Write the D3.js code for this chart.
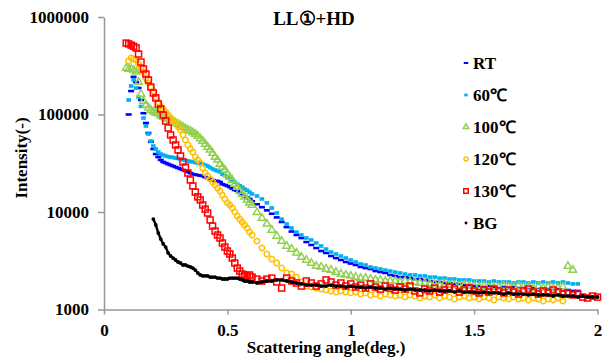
<!DOCTYPE html>
<html>
<head>
<meta charset="utf-8">
<script src="https://cdn.jsdelivr.net/npm/d3@7"></script>
<style>
  html, body { margin: 0; padding: 0; background: #fff; }
  svg { display: block; }
  text { font-family: "Liberation Serif", "Times New Roman", serif; font-weight: bold; fill: #000; }
</style>
</head>
<body>
<svg id="chart" width="609" height="363"></svg>
<script>
// scattering angle (deg.) grid shared by every series
const angles = [
  0.09, 0.10, 0.11, 0.12, 0.13, 0.14, 0.15, 0.16, 0.17, 0.18, 0.19,
  0.20, 0.21, 0.22, 0.23, 0.24, 0.25, 0.26, 0.27, 0.28, 0.29,
  0.30, 0.31, 0.32, 0.33, 0.34, 0.35, 0.36, 0.37, 0.38, 0.39,
  0.40, 0.41, 0.42, 0.43, 0.44, 0.45, 0.46, 0.47, 0.48, 0.49,
  0.50, 0.51, 0.52, 0.53, 0.54, 0.55, 0.56, 0.57, 0.58, 0.59,
  0.60,
  0.62, 0.64, 0.66, 0.68, 0.70, 0.72, 0.74, 0.76, 0.78, 0.80,
  0.82, 0.84, 0.86, 0.88, 0.90, 0.92, 0.94, 0.96, 0.98, 1.00,
  1.02, 1.04, 1.06, 1.08, 1.10, 1.12, 1.14, 1.16, 1.18, 1.20,
  1.22, 1.24, 1.26, 1.28, 1.30, 1.32, 1.34, 1.36, 1.38, 1.40,
  1.42, 1.44, 1.46, 1.48, 1.50, 1.52, 1.54, 1.56, 1.58, 1.60,
  1.62, 1.64, 1.66, 1.68, 1.70, 1.72, 1.74, 1.76, 1.78, 1.80,
  1.82, 1.84, 1.86, 1.88, 1.90, 1.92, 1.94, 1.96, 1.98, 2.00
];

// intensity (-) per series, aligned with angles
const rt = [
  null,
  100000, 174000, 243000, 215000, 187000, 141000, 103000, 81800, 64600, 52500,
  44300, 39300, 36600, 34200, 32600, 31800, 31000, 30300, 29600, 28900,
  28300, 27600, 27000, 26400, 25800, 25100, 24500, 24200, 23900, 23600,
  23400, 22800, 22300, 21800, 21300, 20800, 20800, 20300, 19300, 18900,
  18500, 18000, 17400, 16800, 16500, 15700, 15300, 14600, 14100, 13600,
  12900,
  12000, 11200, 10400, 9600, 8800, 7900, 7000, 6300, 5810, 5410,
  4920, 4590, 4270, 3980, 3800, 3540, 3370, 3220, 3070, 2960,
  2860, 2730, 2660, 2600, 2480, 2420, 2370, 2260, 2210, 2150,
  2150, 2100, 2050, 2050, 2010, 1960, 1915, 1915, 1870, 1870,
  1830, 1830, 1780, 1780, 1740, 1740, 1700, 1740, 1700, 1660,
  1700, 1660, 1700, 1660, 1660, 1620, 1660, 1620, 1620, 1620,
  1585, 1620, 1585, 1585, 1550, 1550, null, null, null, null
];

const c60 = [
  null,
  141000, 196000, 226000, 187000, 151000, 121000, 92000, 76200, 63100, 53500,
  47500, 44300, 41200, 39300, 38400, 37500, 37000, 36600, 36200, 35800,
  35400, 35000, 34200, 33800, 33400, 33000, 32600, 32200, 31800, 31400,
  31000, 30300, 29600, 28600, 27600, 27000, 26400, 25800, 24500, 23600,
  22800, 22000, 21300, 20300, 19300, 18600, 18000, 17200, 16700, 16000,
  15300,
  14600, 13600, 12400, 11000, 9770, 8430, 7540, 6850, 6230, 5810,
  5410, 5170, 4810, 4480, 4170, 3890, 3710, 3540, 3370, 3220,
  3070, 2930, 2860, 2730, 2660, 2600, 2540, 2480, 2420, 2370,
  2310, 2260, 2260, 2210, 2210, 2150, 2150, 2100, 2100, 2055,
  2055, 2010, 2010, 2010, 1960, 1960, 1960, 1915, 1960, 1915,
  1915, 1915, 1870, 1915, 1915, 1870, 1915, 1870, 1915, 1870,
  1915, 1870, 1915, 1870, 1830, 1830, null, null, null, null
];

const c100 = [
  300000, 293000, 293000, 286000, 273000, 215000, 162000, 137000, 125000, 117000, 111000,
  107000, 104000, 102000, 97700, 94200, 92000, 89900, 87800, 84800, 81800,
  79900, 77100, 74400, 71800, 69300, 67700, 65300, 63100, 60200, 56700,
  53500, 49800, 46400, 43300, 40300, 36600, 34200, 31000, 28900, 27000,
  24500, 22800, 21300, 19300, 18000, 16400, 15300, 14300, 13300, 12400,
  11800,
  9890, 8660, 7540, 6540, 5670, 5030, 4480, 4170, 3800, 3450,
  3220, 3000, 2790, 2730, 2600, 2540, 2420, 2310, 2260, 2210,
  2150, 2100, 2100, 2055, 2010, 2010, 1960, 1960, 1960, 1915,
  1960, 1915, 1915, 1870, 1870, 1830, 1830, 1780, 1830, 1780,
  1780, 1740, 1780, 1740, 1740, 1700, 1740, 1700, 1700, 1700,
  1740, 1700, 1700, 1740, 1700, 1700, 1660, 1700, 1660, 1700,
  1660, 1660, 1700, 2790, 2540, null, null, null, null, null
];

const c120 = [
  null,
  354000, 380000, 371000, 362000, 330000, 300000, 273000, 237000, 210000, 191000,
  174000, 151000, 134000, 121000, 114000, 106000, 98800, 92000, 87800, 81800,
  75300, 69300, 61600, 54800, 48700, 44300, 41200, 36600, 34200, 31800,
  28300, 25100, 23400, 21800, 20300, 18900, 17500, 16400, 14900, 13600,
  12400, 11800, 11000, 10000, 9100, 8430, 7890, 7360, 6850, 6230,
  5810,
  5030, 4270, 3710, 3290, 3000, 2660, 2370, 2310, 2150, 1915,
  1740, 1700, 1660, 1620, 1585, 1550, 1510, 1550, 1510, 1480,
  1510, 1440, 1480, 1410, 1440, 1375, 1440, 1410, 1375, 1410,
  1343, 1410, 1375, 1310, 1375, 1343, 1410, 1310, 1375, 1343,
  1282, 1343, 1375, 1310, 1343, 1282, 1343, 1310, 1251, 1343,
  1310, 1282, 1343, 1282, 1310, 1251, 1310, 1282, 1222, 1282,
  1251, 1310, 1222, null, null, null, null, null, null, null
];

const c130 = [
  540000, 530000, 515000, 500000, 481000, 417000, 345000, 293000, 260000, 226000, 191000,
  166000, 148000, 128000, 114000, 98800, 85800, 72700, 61600, 54800, 48700,
  43300, 37500, 32600, 28900, 25100, 21300, 18500, 16000, 14300, 13300,
  11800, 10700, 9770, 8280, 7180, 6380, 5810, 5410, 4810, 4370,
  3980, 3710, 3370, 3000, 2660, 2480, 2310, 2260, 2210, 2260,
  2150,
  2050, 1960, 2050, 2100, 1915, 1660, 2100, 1960, 1870, 1740,
  1960, 1870, 1740, 1830, 2010, 1915, 1780, 1870, 1740, 1830,
  1700, 1780, 1660, 1830, 1700, 1620, 1740, 1660, 1585, 1700,
  1620, 1740, 1550, 1480, 1620, 1550, 1660, 1510, 1585, 1700,
  1620, 1510, 1585, 1660, 1550, 1480, 1585, 1510, 1620, 1550,
  1480, 1585, 1510, 1440, 1550, 1620, 1510, 1440, 1550, 1480,
  1585, 1510, 1440, 1480, 1410, 1440, 1340, 1310, 1375, 1340
];

const bg = [
  null, null, null, null, null, null, null, null, null, null, null,
  8470, 7360, 6090, 5280, 4700, 4370, 3800, 3540, 3370, 3220,
  3070, 3000, 2860, 2860, 2790, 2730, 2660, 2540, 2370, 2260,
  2210, 2210, 2210, 2150, 2150, 2150, 2100, 2100, 2055, 2055,
  2055, 2100, 2100, 2100, 2100, 2055, 2010, 1960, 1960, 1915,
  1915,
  1870, 1915, 1960, 1960, 2010, 2010, 1960, 1915, 1870, 1830,
  1780, 1780, 1780, 1740, 1740, 1780, 1740, 1740, 1700, 1740,
  1700, 1700, 1660, 1700, 1660, 1660, 1620, 1660, 1620, 1620,
  1585, 1620, 1585, 1585, 1585, 1550, 1585, 1550, 1550, 1550,
  1510, 1550, 1510, 1510, 1510, 1480, 1510, 1480, 1480, 1480,
  1440, 1480, 1440, 1440, 1440, 1410, 1440, 1410, 1410, 1410,
  1375, 1410, 1375, 1375, 1375, 1343, 1375, 1343, 1343, 1343
];

const seriesNames = ["RT", "60℃", "100℃", "120℃", "130℃", "BG"];
const seriesValues = [rt, c60, c100, c120, c130, bg];
const seriesColors = ["#0000ff", "#00b0f0", "#92d050", "#ffc000", "#ff0000", "#000000"];
const seriesMarkers = ["dash", "square", "triangle", "circle", "box", "dot"];

const xTicks = [0, 0.5, 1, 1.5, 2];
const yTicks = [1000, 10000, 100000, 1000000];

const svg = d3.select("#chart");
const width = 609, height = 363;
svg.append("rect").attr("width", width).attr("height", height).attr("fill", "#fff");

// plot area
const plotLeft = 104, plotRight = 597.5, plotTop = 17, plotBottom = 309.5;

const x = d3.scaleLinear().domain([0, 2]).range([plotLeft, plotRight]);
const y = d3.scaleLog().domain([1000, 1000000]).range([plotBottom, plotTop]);

// axes
const xAxis = svg.append("g")
  .attr("transform", `translate(0,${plotBottom})`)
  .call(d3.axisBottom(x).tickValues(xTicks).tickFormat(d => String(d)).tickSize(5).tickSizeOuter(0).tickPadding(9));
const yAxis = svg.append("g")
  .attr("transform", `translate(${plotLeft},0)`)
  .call(d3.axisLeft(y).tickValues(yTicks).tickFormat(d3.format("d")).tickSize(6).tickSizeOuter(0).tickPadding(9));

[xAxis, yAxis].forEach(a => {
  a.select(".domain").attr("stroke", "#999").attr("stroke-width", 1.5);
  a.selectAll(".tick line").attr("stroke", "#999").attr("stroke-width", 1.5);
  a.selectAll(".tick text")
    .attr("fill", "#000")
    .style("font-family", "'Liberation Serif', 'Times New Roman', serif")
    .style("font-weight", "bold")
    .style("font-size", "17px");
});

// draws one marker of a given kind into a selection (k scales it down for the legend)
function drawMarker(sel, kind, color, k = 1) {
  if (kind === "dash") {
    sel.append("rect").attr("x", -3 * k).attr("y", -1.3 * k).attr("width", 6 * k).attr("height", 2.6 * k).attr("fill", color);
  } else if (kind === "square") {
    sel.append("rect").attr("x", -2.3 * k).attr("y", -1.8 * k).attr("width", 4.6 * k).attr("height", 3.6 * k).attr("fill", color);
  } else if (kind === "triangle") {
    sel.append("path").attr("d", d3.symbol().type(d3.symbolTriangle).size(24 * k * k)())
      .attr("fill", "none").attr("stroke", color).attr("stroke-width", 1.5);
  } else if (kind === "circle") {
    sel.append("circle").attr("r", 2.7 * k).attr("fill", "none").attr("stroke", color).attr("stroke-width", 1.5);
  } else if (kind === "box") {
    sel.append("rect").attr("x", -3 * k).attr("y", -3 * k).attr("width", 6 * k).attr("height", 6 * k)
      .attr("fill", "none").attr("stroke", color).attr("stroke-width", 1.5);
  } else {
    sel.append("circle").attr("r", 1.9 * k).attr("fill", color);
  }
}

// data points
seriesValues.forEach((vals, i) => {
  const pts = angles.map((a, j) => ({ a: a, v: vals[j] })).filter(p => p.v != null);
  const g = svg.append("g").attr("class", "series");
  if (seriesMarkers[i] === "dot") {
    // background points sit so close together that they read as a line
    g.append("path")
      .datum(pts)
      .attr("fill", "none")
      .attr("stroke", seriesColors[i])
      .attr("stroke-width", 2.4)
      .attr("d", d3.line().x(p => x(p.a)).y(p => y(p.v)));
  }
  g.selectAll("g")
    .data(pts)
    .join("g")
    .attr("transform", p => `translate(${x(p.a)},${y(p.v)})`)
    .each(function () { drawMarker(d3.select(this), seriesMarkers[i], seriesColors[i]); });
});

// legend
const legend = svg.append("g");
seriesNames.forEach((name, i) => {
  const cy = 63 + i * 32;
  const m = legend.append("g").attr("transform", `translate(466,${cy})`);
  drawMarker(m, seriesMarkers[i], seriesColors[i], 0.75);
  legend.append("text").attr("x", 473).attr("y", cy + 6).style("font-size", "17px").text(name);
});

// titles
svg.append("text").attr("x", 314).attr("y", 25).attr("text-anchor", "middle")
  .style("font-size", "19px").text("LL①+HD");
svg.append("text").attr("x", 326).attr("y", 353).attr("text-anchor", "middle")
  .style("font-size", "17px").text("Scattering angle(deg.)");
svg.append("text").attr("transform", "translate(27,158) rotate(-90)").attr("text-anchor", "middle")
  .style("font-size", "17px").text("Intensity(-)");
</script>
</body>
</html>
